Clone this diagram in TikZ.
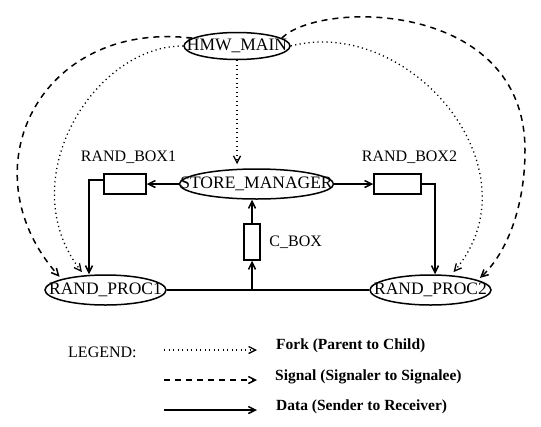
\documentclass[tikz,border=0pt]{standalone}
\usepackage{fontspec}
\setmainfont{Liberation Serif}
\usepackage{tikz}
\usetikzlibrary{shapes.geometric, arrows.meta, positioning, calc}
\newcommand{\squeeze}[1]{\makebox[0pt]{#1}}
\tikzstyle{procnode} = [ellipse,
draw=black,
line width=1.5pt,
inner sep=0pt,
minimum width=121pt,
minimum height=30pt,
font=\fontsize{17.5}{20}\selectfont]
\tikzstyle{bufbox} = [rectangle,
minimum width=42pt,
minimum height=20pt,
draw=black,
line width=1.5pt]
\tikzstyle{tag} = [inner sep=0pt, font=\fontsize{16}{18}\selectfont]
\tikzstyle{legendtext} = [inner sep=0pt, anchor=base west, font=\bfseries\fontsize{15.5}{18}\selectfont]
\tikzstyle{dataline} = [line width=1.5pt]
\tikzstyle{dataarrow} = [line width=1.5pt,-{Straight Barb[length=7pt,width=7pt]}]
\tikzstyle{forkarrow} = [line width=1.3pt, dash pattern=on 1.2pt off 3.3pt, -{Straight Barb[length=7pt,width=7pt]}, shorten >=4pt]
\tikzstyle{signalarrow} = [line width=1.5pt, dash pattern=on 6pt off 5pt, -{Straight Barb[length=7pt,width=7pt]}, shorten >=3pt]

\begin{document}
\begin{tikzpicture}[x=1pt, y=-1pt]
                \useasboundingbox (0,0) rectangle (541,426);
                % processes
                \node (main) [procnode, minimum width=106pt, minimum height=27pt] at (237,46) {\squeeze{HMW\_MAIN}};
                \node (store) [procnode, minimum width=154pt] at (256.5,184) {\squeeze{STORE\_MANAGER}};
                \node (proca) [procnode] at (105.5,290) {\squeeze{RAND\_PROC1}};
                \node (procb) [procnode] at (430.5,290) {\squeeze{RAND\_PROC2}};

                % shared boxes
                \node (boxa) [bufbox] at (125,184) {};
                \node (boxb) [bufbox, minimum width=47pt] at (397.5,184) {};
                \node (cbox) [bufbox, minimum width=16pt, minimum height=36pt] at (252,242) {};
                \node (tagboxa) [tag, anchor=base] at (128.5,161) {RAND\_BOX1};
                \node (tagboxb) [tag, anchor=base] at (409.5,161) {RAND\_BOX2};
                \node (tagcbox) [tag, right=8.5pt of cbox] {C\_BOX};

                % data
                \draw [dataarrow] (store.west) -- (boxa.east);
                \draw [dataarrow] (store.east) -- (boxb.west);
                \draw [dataarrow] ([yshift=4pt]boxa.west) -| ([xshift=-16.5pt]proca.north);
                \draw [dataarrow] (boxb.east) -| ([xshift=4.5pt]procb.north);
                \draw [dataline] (proca) -- (procb);
                \coordinate (joint) at (cbox |- proca);
                \draw [dataarrow] (joint) -- (cbox);
                \draw [dataarrow] (cbox) -- (cbox |- store.south);

                % fork
                \draw [forkarrow] (main.south) -- (main.south |- store.north);
                \draw [forkarrow] (main.west) .. controls (95,45) and (10,180) .. (proca.145);
                \draw [forkarrow] (main.east) .. controls (410,15) and (540,170) .. (procb.36);

                % signal
                \draw [signalarrow] (main.170) .. controls (40,20) and (-35,170) .. (proca.166);
                \draw [signalarrow] (main.10) .. controls (320,0) and (525,0) .. (525,150) .. controls (525,210) and (505,255) .. (procb.12);

                % legend
                \node (legend) [tag, anchor=base west] at (68,357) {LEGEND:};
                \node (forktxt) [legendtext] at (276,349.5) {Fork (Parent to Child)};
                \node (signaltxt) [legendtext] at (275,380) {Signal (Signaler to Signalee)};
                \node (datatxt) [legendtext] at (276,410) {Data (Sender to Receiver)};
                \coordinate (forka) at (164,350);
                \coordinate (forkb) at (257,350);
                \coordinate (signala) at (164,380);
                \coordinate (signalb) at (257,380);
                \coordinate (dataa) at (164,410);
                \coordinate (datab) at (257,410);
                \draw [forkarrow, shorten >=0pt] (forka) -- (forkb);
                \draw [signalarrow, shorten >=0pt] (signala) -- (signalb);
                \draw [dataarrow] (dataa) -- (datab);
            \end{tikzpicture}
\end{document}
